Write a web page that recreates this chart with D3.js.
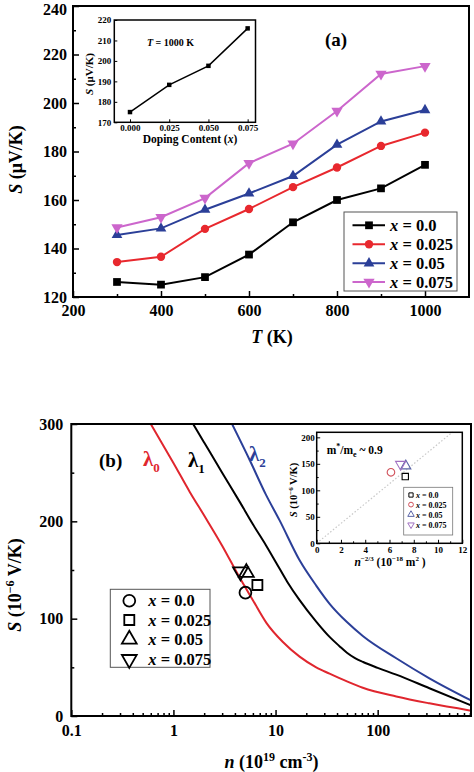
<!DOCTYPE html>
<html><head><meta charset="utf-8">
<script src="https://cdn.jsdelivr.net/npm/d3@7"></script>
<style>
body{margin:0;background:#fff}
svg{display:block}
text{font-family:"Liberation Serif","Times New Roman",serif;font-weight:bold;fill:#000}
</style>
</head><body>
<svg id="c" width="474" height="772"></svg>
<script>
// ---------- Panel (a) data ----------
const temps = [300, 400, 500, 600, 700, 800, 900, 1000];
const S_x000 = [126.2, 125.1, 128.2, 137.5, 150.8, 160.0, 164.8, 174.5];
const S_x025 = [134.4, 136.6, 148.1, 156.3, 165.3, 173.4, 182.3, 187.8];
const S_x050 = [145.6, 148.3, 156.0, 162.7, 169.9, 182.8, 192.4, 197.1];
const S_x075 = [148.7, 152.9, 160.8, 175.2, 183.2, 196.7, 212.0, 215.2];
const seriesNames = ["0.0", "0.025", "0.05", "0.075"];
const aTicksX = [200, 400, 600, 800, 1000];
const aTicksY = [120, 140, 160, 180, 200, 220, 240];
// inset (a)
const dopingX = [0, 0.025, 0.05, 0.075];
const S_1000K = [175.0, 188.3, 197.6, 215.9];
const insetATicksX = [0, 0.025, 0.05, 0.075];
const insetATicksY = [170, 180, 190, 200, 210, 220];

// ---------- Panel (b) data ----------
const nL0 = [0.6, 1, 1.45, 2, 3, 4.46, 6, 8.1, 11.8, 17.2, 25, 33.8, 50, 71.5, 152, 321, 820];
const SL0 = [300, 260, 230, 206, 175, 142, 119, 96, 76, 61, 50, 43.5, 35.5, 29, 20, 13, 5.5];
const nL1 = [1.56, 2, 3, 4.46, 6, 8.1, 10.2, 13, 17.2, 25, 34, 42, 50, 60, 72, 100, 152, 321, 820];
const SL1 = [300, 281, 250, 220, 197, 175, 157, 138, 119, 97, 81, 72, 65, 59.5, 55.5, 49.5, 42.5, 28.5, 11];
const nL2 = [3.75, 5.58, 8, 10.96, 17.2, 25, 34, 50, 72, 152, 321, 820];
const SL2 = [300, 263, 228, 201, 160, 134, 115, 96.5, 82, 59.3, 38.7, 16];
const nMeas = [5.07, 6.64, 5.18, 4.53];
const SMeas = [126.7, 134.6, 147.3, 148.3];
const bTicksX = [0.1, 1, 10, 100];
const bTicksY = [0, 100, 200, 300];
// inset (b)
const invN = [7.3, 6.12, 7.34, 6.92];
const SInv = [126, 134, 146, 149];
const fitX = [0, 11.2];
const fitY = [0, 210];
const insetBTicksX = [0, 2, 4, 6, 8, 10, 12];
const insetBTicksY = [0, 50, 100, 150, 200];

const svg = d3.select("#c");
const colA = ["#000000", "#e8282e", "#2b3f98", "#cc66cc"];
const symDown = {draw(ctx, size){ const s=Math.sqrt(size/(Math.sqrt(3)/4)); const h=s*Math.sqrt(3)/2; ctx.moveTo(0,h*2/3); ctx.lineTo(s/2,-h/3); ctx.lineTo(-s/2,-h/3); ctx.closePath(); }};
const symA = [d3.symbolSquare, d3.symbolCircle, d3.symbolTriangle, symDown];

function styleAxis(g, fs){
  g.select(".domain").remove();
  g.selectAll(".tick line").attr("stroke","#000").attr("stroke-width",1.5);
  g.selectAll("text").attr("font-size",fs).attr("font-family",'"Liberation Serif",serif').attr("font-weight","bold").attr("fill","#000");
  g.attr("font-size",null).attr("font-family",null);
}

// =============== Panel (a) =================
(function(){
  const L=73,R=469,T=6,B=297;
  const x=d3.scaleLinear().domain([200,1100]).range([L,R]);
  const y=d3.scaleLinear().domain([120,240]).range([B,T]);
  const g=svg.append("g");
  g.append("g").attr("transform",`translate(0,${B})`).call(d3.axisBottom(x).tickValues(d3.range(300,1100,200)).tickSizeInner(-3).tickSizeOuter(0).tickFormat("")).call(a=>styleAxis(a,16));
  g.append("g").attr("transform",`translate(${L},0)`).call(d3.axisLeft(y).tickValues(d3.range(130,240,20)).tickSizeInner(-3).tickSizeOuter(0).tickFormat("")).call(a=>styleAxis(a,16));
  g.append("g").attr("transform",`translate(0,${B})`).call(d3.axisBottom(x).tickValues(aTicksX).tickSizeInner(-6).tickSizeOuter(0).tickPadding(8).tickFormat(d3.format("d"))).call(a=>styleAxis(a,16));
  g.append("g").attr("transform",`translate(${L},0)`).call(d3.axisLeft(y).tickValues(aTicksY).tickSizeInner(-6).tickSizeOuter(0).tickPadding(6).tickFormat(d3.format("d"))).call(a=>styleAxis(a,16))
    .call(a=>a.selectAll(".tick text").filter(d=>d===240).attr("dy","0.5em"));
  g.append("rect").attr("x",L).attr("y",T).attr("width",R-L).attr("height",B-T).attr("fill","none").attr("stroke","#000").attr("stroke-width",2);

  const series=[S_x000,S_x025,S_x050,S_x075];
  const line=d3.line().x((d,i)=>x(temps[i])).y(d=>y(d));
  const sizes=[60,55,50,55];
  series.forEach((s,k)=>{
    g.append("path").attr("d",line(s)).attr("fill","none").attr("stroke",colA[k]).attr("stroke-width",2);
    g.selectAll(null).data(s).enter().append("path")
      .attr("transform",(d,i)=>`translate(${x(temps[i])},${y(d)})`)
      .attr("d",d3.symbol().type(symA[k]).size(sizes[k])).attr("fill",colA[k]);
  });
  const yt=g.append("text").attr("transform",`translate(22,${(T+B)/2+8}) rotate(-90)`).attr("text-anchor","middle").attr("font-size",18);
  yt.append("tspan").attr("font-style","italic").text("S");
  yt.append("tspan").text(" (μV/K)");
  const xt=g.append("text").attr("x",272).attr("y",343).attr("text-anchor","middle").attr("font-size",18);
  xt.append("tspan").attr("font-style","italic").text("T");
  xt.append("tspan").text(" (K)");
  g.append("text").attr("x",336).attr("y",46).attr("text-anchor","middle").attr("font-size",19).text("(a)");

  g.append("rect").attr("x",344).attr("y",212).attr("width",113).attr("height",79).attr("fill","#fff").attr("stroke","#555").attr("stroke-width",1);
  const ly=[225.3,244.3,263.3,282];
  seriesNames.forEach((nm,k)=>{
    g.append("line").attr("x1",352.5).attr("x2",385).attr("y1",ly[k]).attr("y2",ly[k]).attr("stroke",colA[k]).attr("stroke-width",2);
    g.append("path").attr("transform",`translate(369,${ly[k]})`).attr("d",d3.symbol().type(symA[k]).size(sizes[k])).attr("fill",colA[k]);
    const t=g.append("text").attr("x",390).attr("y",ly[k]+5.5).attr("font-size",16.5);
    t.append("tspan").attr("font-style","italic").text("x");
    t.append("tspan").text(" = "+nm);
  });

  // inset (a)
  const iL=114.3,iR=255.5,iT=20,iB=122.3;
  const ix=d3.scaleLinear().domain([-0.01,0.08]).range([iL,iR]);
  const iy=d3.scaleLinear().domain([170,220]).range([iB,iT]);
  const gi=svg.append("g");
  gi.append("g").attr("transform",`translate(0,${iB})`).call(d3.axisBottom(ix).tickValues(insetATicksX).tickSizeInner(-3).tickSizeOuter(0).tickPadding(2).tickFormat(d3.format(".3f"))).call(a=>styleAxis(a,9));
  gi.append("g").attr("transform",`translate(${iL},0)`).call(d3.axisLeft(iy).tickValues(insetATicksY).tickSizeInner(-3).tickSizeOuter(0).tickPadding(3)).call(a=>styleAxis(a,9));
  gi.selectAll(".tick line").attr("stroke-width",1);
  gi.append("rect").attr("x",iL).attr("y",iT).attr("width",iR-iL).attr("height",iB-iT).attr("fill","none").attr("stroke","#000").attr("stroke-width",1.5);
  gi.append("path").attr("d",d3.line().x((d,i)=>ix(dopingX[i])).y(d=>iy(d))(S_1000K)).attr("fill","none").attr("stroke","#000").attr("stroke-width",1.5);
  gi.selectAll(null).data(S_1000K).enter().append("path").attr("transform",(d,i)=>`translate(${ix(dopingX[i])},${iy(d)})`).attr("d",d3.symbol().type(d3.symbolSquare).size(20)).attr("fill","#000");
  const it=gi.append("text").attr("x",147).attr("y",45.5).attr("font-size",10);
  it.append("tspan").attr("font-style","italic").text("T");
  it.append("tspan").text(" = 1000 K");
  const iyt=gi.append("text").attr("transform",`translate(93,74) rotate(-90)`).attr("text-anchor","middle").attr("font-size",11);
  iyt.append("tspan").attr("font-style","italic").text("S");
  iyt.append("tspan").text(" (μV/K)");
  const ixt=gi.append("text").attr("x",190).attr("y",142.5).attr("text-anchor","middle").attr("font-size",11.5);
  ixt.append("tspan").text("Doping Content (");
  ixt.append("tspan").attr("font-style","italic").text("x");
  ixt.append("tspan").text(")");
})();

// =============== Panel (b) =================
(function(){
  const L=71.3,R=471,T=424,B=716;
  const x=d3.scaleLog().domain([0.1,820]).range([L,R]);
  const y=d3.scaleLinear().domain([0,300]).range([B,T]);
  const g=svg.append("g");
  const minor=[];
  [0.1,1,10,100].forEach(dec=>{for(let m=2;m<=9;m++){const v=dec*m; if(v<=820) minor.push(v);}});
  g.append("g").attr("transform",`translate(0,${B})`).call(d3.axisBottom(x).tickValues(minor).tickSizeInner(-3).tickSizeOuter(0).tickFormat("")).call(a=>styleAxis(a,16));
  g.append("g").attr("transform",`translate(${L},0)`).call(d3.axisLeft(y).tickValues([50,150,250]).tickSizeInner(-3).tickSizeOuter(0).tickFormat("")).call(a=>styleAxis(a,16));
  g.append("g").attr("transform",`translate(0,${B})`).call(d3.axisBottom(x).tickValues(bTicksX).tickSizeInner(-6).tickSizeOuter(0).tickPadding(9).tickFormat(d=>String(d))).call(a=>styleAxis(a,16));
  g.append("g").attr("transform",`translate(${L},0)`).call(d3.axisLeft(y).tickValues(bTicksY).tickSizeInner(-6).tickSizeOuter(0).tickPadding(8)).call(a=>styleAxis(a,16));

  const clipId="clipb";
  svg.append("clipPath").attr("id",clipId).append("rect").attr("x",L).attr("y",T).attr("width",R-L).attr("height",B-T);
  const curves=[[nL0,SL0,"#e0262e"],[nL1,SL1,"#000000"],[nL2,SL2,"#2b3f98"]];
  curves.forEach(([nn,ss,c])=>{
    g.append("path").attr("clip-path",`url(#${clipId})`)
      .attr("d",d3.line().x((d,i)=>x(nn[i])).y(d=>y(d)).curve(d3.curveMonotoneX)(ss))
      .attr("fill","none").attr("stroke",c).attr("stroke-width",2);
  });
  g.append("rect").attr("x",L).attr("y",T).attr("width",R-L).attr("height",B-T).attr("fill","none").attr("stroke","#000").attr("stroke-width",2);

  const symB=[d3.symbolCircle,d3.symbolSquare,d3.symbolTriangle,symDown];
  const sizeB=[110,100,95,95];
  nMeas.forEach((nv,k)=>{
    g.append("path").attr("transform",`translate(${x(nv)},${y(SMeas[k])})`).attr("d",d3.symbol().type(symB[k]).size(sizeB[k])).attr("fill","none").attr("stroke","#000").attr("stroke-width",1.8);
  });

  const lam=[["0",143,466,"#e0262e"],["1",188,467,"#000"],["2",249,461,"#2b3f98"]];
  lam.forEach(([s,xx,yy,c])=>{
    const t=g.append("text").attr("x",xx).attr("y",yy).attr("font-size",21).attr("font-weight","normal").style("fill",c);
    t.append("tspan").text("λ");
    t.append("tspan").attr("font-size",13).attr("dy",6).text(s);
  });
  g.append("text").attr("x",99).attr("y",467).attr("font-size",19).text("(b)");

  g.append("rect").attr("x",110.3).attr("y",589.3).attr("width",99.7).attr("height",78).attr("fill","#fff").attr("stroke","#555").attr("stroke-width",1);
  const ly=[600.7,620,639.3,659.3];
  seriesNames.forEach((nm,k)=>{
    g.append("path").attr("transform",`translate(129.3,${ly[k]})`).attr("d",d3.symbol().type(symB[k]).size(sizeB[k])).attr("fill","none").attr("stroke","#000").attr("stroke-width",1.8);
    const t=g.append("text").attr("x",148.3).attr("y",ly[k]+5.5).attr("font-size",16.5);
    t.append("tspan").attr("font-style","italic").text("x");
    t.append("tspan").text(" = "+nm);
  });

  const yt=g.append("text").attr("transform",`translate(21,585) rotate(-90)`).attr("text-anchor","middle").attr("font-size",18);
  yt.append("tspan").attr("font-style","italic").text("S");
  yt.append("tspan").text(" (10");
  yt.append("tspan").attr("font-size",12).attr("dy",-7).text("−6");
  yt.append("tspan").attr("dy",7).text(" V/K)");
  const xt=g.append("text").attr("x",271.5).attr("y",768).attr("text-anchor","middle").attr("font-size",18);
  xt.append("tspan").attr("font-style","italic").text("n");
  xt.append("tspan").text(" (10");
  xt.append("tspan").attr("font-size",12).attr("dy",-7).text("19");
  xt.append("tspan").attr("dy",7).text(" cm");
  xt.append("tspan").attr("font-size",12).attr("dy",-7).text("-3");
  xt.append("tspan").attr("dy",7).text(")");

  // inset (b)
  const iL=316.7,iR=462.3,iT=432.3,iB=543.3;
  const ix=d3.scaleLinear().domain([0,12]).range([iL,iR]);
  const iy=d3.scaleLinear().domain([0,209.5]).range([iB,iT]);
  const gi=svg.append("g");
  gi.append("rect").attr("x",iL).attr("y",iT).attr("width",iR-iL).attr("height",iB-iT).attr("fill","#fff");
  gi.append("g").attr("transform",`translate(0,${iB})`).call(d3.axisBottom(ix).tickValues(d3.range(1,12,2)).tickSizeInner(-2).tickSizeOuter(0).tickFormat("")).call(a=>styleAxis(a,9));
  gi.append("g").attr("transform",`translate(${iL},0)`).call(d3.axisLeft(iy).tickValues([25,75,125,175]).tickSizeInner(-2).tickSizeOuter(0).tickFormat("")).call(a=>styleAxis(a,9));
  gi.append("g").attr("transform",`translate(0,${iB})`).call(d3.axisBottom(ix).tickValues(insetBTicksX).tickSizeInner(-3.5).tickSizeOuter(0).tickPadding(3)).call(a=>styleAxis(a,9));
  gi.append("g").attr("transform",`translate(${iL},0)`).call(d3.axisLeft(iy).tickValues(insetBTicksY).tickSizeInner(-3.5).tickSizeOuter(0).tickPadding(2)).call(a=>styleAxis(a,9));
  gi.selectAll(".tick line").attr("stroke-width",1);
  gi.append("path").attr("d",d3.line().x((d,i)=>ix(fitX[i])).y(d=>iy(d))(fitY)).attr("stroke","#c8c8c8").attr("stroke-width",1.2).attr("stroke-dasharray","1.5,2").attr("fill","none");
  gi.append("rect").attr("x",iL).attr("y",iT).attr("width",iR-iL).attr("height",iB-iT).attr("fill","none").attr("stroke","#000").attr("stroke-width",1.5);
  const symI=[d3.symbolSquare,d3.symbolCircle,d3.symbolTriangle,symDown];
  const colI=["#000000","#d0505a","#5a64a6","#a070c0"];
  const sizeI=[40,45,45,45];
  invN.forEach((v,k)=>{
    gi.append("path").attr("transform",`translate(${ix(v)},${iy(SInv[k])})`).attr("d",d3.symbol().type(symI[k]).size(sizeI[k])).attr("fill","none").attr("stroke",colI[k]).attr("stroke-width",1.1);
  });
  const mt=gi.append("text").attr("x",326.7).attr("y",453.5).attr("font-size",11.5);
  mt.append("tspan").text("m");
  mt.append("tspan").attr("font-size",8).attr("dy",-5).text("*");
  mt.append("tspan").attr("dy",5).text("/m");
  mt.append("tspan").attr("font-size",8).attr("dy",3).text("e");
  mt.append("tspan").attr("dy",-3).text(" ~ 0.9");
  gi.append("rect").attr("x",403.7).attr("y",487.3).attr("width",49).attr("height",47.7).attr("fill","#fff").attr("stroke","#777").attr("stroke-width",0.8);
  const ily=[495,504.6,514.5,524.8];
  seriesNames.forEach((nm,k)=>{
    gi.append("path").attr("transform",`translate(411,${ily[k]})`).attr("d",d3.symbol().type(symI[k]).size(18)).attr("fill","none").attr("stroke",colI[k]).attr("stroke-width",1);
    const t=gi.append("text").attr("x",416).attr("y",ily[k]+3).attr("font-size",8);
    t.append("tspan").attr("font-style","italic").text("x");
    t.append("tspan").text(" = "+nm);
  });
  const iyt=gi.append("text").attr("transform",`translate(297,490) rotate(-90)`).attr("text-anchor","middle").attr("font-size",10.5);
  iyt.append("tspan").attr("font-style","italic").text("S");
  iyt.append("tspan").text(" (10");
  iyt.append("tspan").attr("font-size",7).attr("dy",-4).text("−6");
  iyt.append("tspan").attr("dy",4).text(" V/K)");
  const ixt=gi.append("text").attr("x",390).attr("y",566).attr("text-anchor","middle").attr("font-size",11.5);
  ixt.append("tspan").attr("font-style","italic").text("n");
  ixt.append("tspan").attr("font-size",7).attr("dy",-5).text("−2/3");
  ixt.append("tspan").attr("dy",5).text(" (10");
  ixt.append("tspan").attr("font-size",7).attr("dy",-5).text("−18");
  ixt.append("tspan").attr("dy",5).text(" m");
  ixt.append("tspan").attr("font-size",7).attr("dy",-5).text("2");
  ixt.append("tspan").attr("dy",5).text(" )");
})();
</script>
</body></html>
